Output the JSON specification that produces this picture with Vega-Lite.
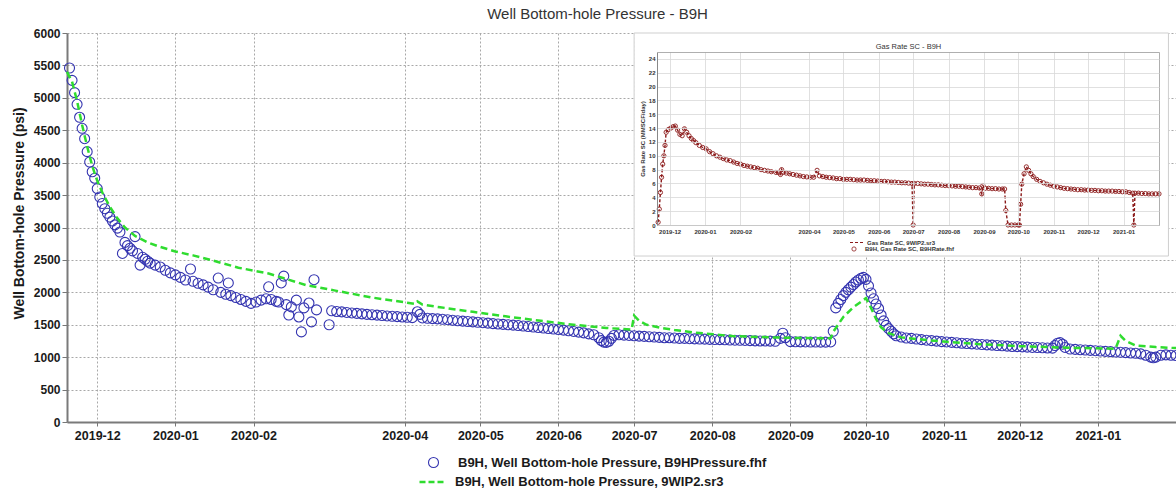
{
 "$schema": "https://vega.github.io/schema/vega-lite/v6.json",
 "width": 1109, "height": 389,
 "autosize": {"type": "none"},
 "padding": {"left": 67, "top": 33, "right": 0, "bottom": 67},
 "background": "white",
 "title": {"text": "Well Bottom-hole Pressure - B9H", "fontSize": 15, "fontWeight": "normal", "font": "Liberation Sans", "color": "#333333", "dx": -24, "offset": 5},
 "config": {"view": {"stroke": null}, "font": "Liberation Sans"},
 "datasets": {
  "obs": [
   {"d":"2019-11-20","p":5460},{"d":"2019-11-21","p":5270},{"d":"2019-11-22","p":5080},{"d":"2019-11-23","p":4900},{"d":"2019-11-24","p":4700},{"d":"2019-11-25","p":4530},{"d":"2019-11-26","p":4370},{"d":"2019-11-27","p":4170},{"d":"2019-11-28","p":4010},{"d":"2019-11-29","p":3860},{"d":"2019-11-30","p":3760},
   {"d":"2019-12-01","p":3600},{"d":"2019-12-02","p":3470},{"d":"2019-12-03","p":3370},{"d":"2019-12-04","p":3290},{"d":"2019-12-05","p":3220},{"d":"2019-12-06","p":3160},{"d":"2019-12-07","p":3100},{"d":"2019-12-08","p":3040},{"d":"2019-12-09","p":2990},{"d":"2019-12-10","p":2930},{"d":"2019-12-11","p":2600},{"d":"2019-12-12","p":2770},{"d":"2019-12-13","p":2720},{"d":"2019-12-14","p":2680},{"d":"2019-12-15","p":2640},{"d":"2019-12-16","p":2860},{"d":"2019-12-17","p":2600},{"d":"2019-12-18","p":2420},{"d":"2019-12-19","p":2540},{"d":"2019-12-20","p":2510},{"d":"2019-12-21","p":2480},{"d":"2019-12-22","p":2450},{"d":"2019-12-24","p":2420},{"d":"2019-12-26","p":2390},{"d":"2019-12-28","p":2340},{"d":"2019-12-30","p":2300},
   {"d":"2020-01-01","p":2270},{"d":"2020-01-03","p":2230},{"d":"2020-01-05","p":2190},{"d":"2020-01-07","p":2360},{"d":"2020-01-08","p":2170},{"d":"2020-01-10","p":2140},{"d":"2020-01-12","p":2115},{"d":"2020-01-14","p":2080},{"d":"2020-01-16","p":2040},{"d":"2020-01-18","p":2220},{"d":"2020-01-19","p":2000},{"d":"2020-01-21","p":1970},{"d":"2020-01-22","p":2145},{"d":"2020-01-23","p":1950},{"d":"2020-01-25","p":1920},{"d":"2020-01-27","p":1890},{"d":"2020-01-29","p":1860},{"d":"2020-01-31","p":1830},
   {"d":"2020-02-02","p":1850},{"d":"2020-02-04","p":1880},{"d":"2020-02-06","p":1900},{"d":"2020-02-07","p":2085},{"d":"2020-02-08","p":1890},{"d":"2020-02-10","p":1860},{"d":"2020-02-11","p":1850},{"d":"2020-02-12","p":2145},{"d":"2020-02-13","p":2250},{"d":"2020-02-14","p":1810},{"d":"2020-02-15","p":1650},{"d":"2020-02-16","p":1775},{"d":"2020-02-18","p":1880},{"d":"2020-02-19","p":1620},{"d":"2020-02-20","p":1390},{"d":"2020-02-21","p":1760},{"d":"2020-02-23","p":1835},{"d":"2020-02-24","p":1545},{"d":"2020-02-25","p":2195},{"d":"2020-02-26","p":1730},{"d":"2020-03-02","p":1500},
   {"d":"2020-03-03","p":1715},{"d":"2020-03-05","p":1705},{"d":"2020-03-07","p":1698},{"d":"2020-03-09","p":1690},{"d":"2020-03-11","p":1682},{"d":"2020-03-13","p":1675},{"d":"2020-03-15","p":1668},{"d":"2020-03-17","p":1660},{"d":"2020-03-19","p":1655},{"d":"2020-03-21","p":1648},{"d":"2020-03-23","p":1642},{"d":"2020-03-25","p":1636},{"d":"2020-03-27","p":1630},{"d":"2020-03-29","p":1625},{"d":"2020-03-31","p":1620},
   {"d":"2020-04-02","p":1615},{"d":"2020-04-04","p":1610},{"d":"2020-04-06","p":1700},{"d":"2020-04-07","p":1660},{"d":"2020-04-08","p":1605},{"d":"2020-04-10","p":1600},{"d":"2020-04-12","p":1595},{"d":"2020-04-14","p":1590},{"d":"2020-04-16","p":1585},{"d":"2020-04-18","p":1578},{"d":"2020-04-20","p":1570},{"d":"2020-04-22","p":1562},{"d":"2020-04-24","p":1556},{"d":"2020-04-26","p":1550},{"d":"2020-04-28","p":1545},{"d":"2020-04-30","p":1538},
   {"d":"2020-05-02","p":1532},{"d":"2020-05-04","p":1525},{"d":"2020-05-06","p":1518},{"d":"2020-05-08","p":1512},{"d":"2020-05-10","p":1506},{"d":"2020-05-12","p":1500},{"d":"2020-05-14","p":1494},{"d":"2020-05-16","p":1488},{"d":"2020-05-18","p":1480},{"d":"2020-05-20","p":1472},{"d":"2020-05-22","p":1465},{"d":"2020-05-24","p":1457},{"d":"2020-05-26","p":1450},{"d":"2020-05-28","p":1442},{"d":"2020-05-30","p":1434},
   {"d":"2020-06-01","p":1426},{"d":"2020-06-03","p":1417},{"d":"2020-06-05","p":1407},{"d":"2020-06-07","p":1397},{"d":"2020-06-09","p":1387},{"d":"2020-06-11","p":1375},{"d":"2020-06-13","p":1360},{"d":"2020-06-15","p":1345},{"d":"2020-06-17","p":1300},{"d":"2020-06-18","p":1255},{"d":"2020-06-19","p":1232},{"d":"2020-06-20","p":1228},{"d":"2020-06-21","p":1245},{"d":"2020-06-22","p":1290},{"d":"2020-06-23","p":1335},{"d":"2020-06-25","p":1345},{"d":"2020-06-27","p":1340},{"d":"2020-06-29","p":1335},
   {"d":"2020-07-01","p":1330},{"d":"2020-07-03","p":1325},{"d":"2020-07-05","p":1320},{"d":"2020-07-07","p":1315},{"d":"2020-07-09","p":1310},{"d":"2020-07-11","p":1305},{"d":"2020-07-13","p":1300},{"d":"2020-07-15","p":1300},{"d":"2020-07-17","p":1295},{"d":"2020-07-19","p":1290},{"d":"2020-07-21","p":1290},{"d":"2020-07-23","p":1285},{"d":"2020-07-25","p":1282},{"d":"2020-07-27","p":1280},{"d":"2020-07-29","p":1278},{"d":"2020-07-31","p":1275},
   {"d":"2020-08-02","p":1272},{"d":"2020-08-04","p":1270},{"d":"2020-08-06","p":1268},{"d":"2020-08-08","p":1265},{"d":"2020-08-10","p":1262},{"d":"2020-08-12","p":1260},{"d":"2020-08-14","p":1258},{"d":"2020-08-16","p":1255},{"d":"2020-08-18","p":1252},{"d":"2020-08-20","p":1250},{"d":"2020-08-22","p":1250},{"d":"2020-08-24","p":1248},{"d":"2020-08-26","p":1245},{"d":"2020-08-28","p":1290},{"d":"2020-08-29","p":1370},{"d":"2020-08-30","p":1300},
   {"d":"2020-09-01","p":1240},{"d":"2020-09-03","p":1238},{"d":"2020-09-05","p":1236},{"d":"2020-09-07","p":1235},{"d":"2020-09-09","p":1234},{"d":"2020-09-11","p":1233},{"d":"2020-09-13","p":1232},{"d":"2020-09-15","p":1232},{"d":"2020-09-17","p":1235},{"d":"2020-09-18","p":1400},{"d":"2020-09-19","p":1760},{"d":"2020-09-20","p":1830},{"d":"2020-09-21","p":1890},{"d":"2020-09-22","p":1950},{"d":"2020-09-23","p":2000},{"d":"2020-09-24","p":2040},{"d":"2020-09-25","p":2080},{"d":"2020-09-26","p":2120},{"d":"2020-09-27","p":2160},{"d":"2020-09-28","p":2190},{"d":"2020-09-29","p":2215},{"d":"2020-09-30","p":2230},
   {"d":"2020-10-01","p":2200},{"d":"2020-10-02","p":2100},{"d":"2020-10-03","p":1990},{"d":"2020-10-04","p":1900},{"d":"2020-10-05","p":1820},{"d":"2020-10-06","p":1750},{"d":"2020-10-07","p":1650},{"d":"2020-10-08","p":1560},{"d":"2020-10-09","p":1490},{"d":"2020-10-10","p":1440},{"d":"2020-10-11","p":1400},{"d":"2020-10-12","p":1360},{"d":"2020-10-13","p":1330},{"d":"2020-10-15","p":1310},{"d":"2020-10-17","p":1295},{"d":"2020-10-19","p":1290},{"d":"2020-10-21","p":1280},{"d":"2020-10-23","p":1270},{"d":"2020-10-25","p":1262},{"d":"2020-10-27","p":1255},{"d":"2020-10-29","p":1248},{"d":"2020-10-31","p":1240},
   {"d":"2020-11-02","p":1235},{"d":"2020-11-04","p":1228},{"d":"2020-11-06","p":1222},{"d":"2020-11-08","p":1215},{"d":"2020-11-10","p":1210},{"d":"2020-11-12","p":1205},{"d":"2020-11-14","p":1200},{"d":"2020-11-16","p":1195},{"d":"2020-11-18","p":1190},{"d":"2020-11-20","p":1185},{"d":"2020-11-22","p":1180},{"d":"2020-11-24","p":1175},{"d":"2020-11-26","p":1170},{"d":"2020-11-28","p":1165},{"d":"2020-11-30","p":1162},
   {"d":"2020-12-02","p":1158},{"d":"2020-12-04","p":1155},{"d":"2020-12-06","p":1150},{"d":"2020-12-08","p":1148},{"d":"2020-12-10","p":1145},{"d":"2020-12-12","p":1142},{"d":"2020-12-14","p":1140},{"d":"2020-12-15","p":1180},{"d":"2020-12-16","p":1215},{"d":"2020-12-17","p":1225},{"d":"2020-12-18","p":1200},{"d":"2020-12-19","p":1150},{"d":"2020-12-21","p":1125},{"d":"2020-12-23","p":1120},{"d":"2020-12-25","p":1115},{"d":"2020-12-27","p":1110},{"d":"2020-12-29","p":1105},{"d":"2020-12-31","p":1100},
   {"d":"2021-01-02","p":1095},{"d":"2021-01-04","p":1090},{"d":"2021-01-06","p":1085},{"d":"2021-01-08","p":1080},{"d":"2021-01-10","p":1075},{"d":"2021-01-12","p":1070},{"d":"2021-01-14","p":1065},{"d":"2021-01-16","p":1060},{"d":"2021-01-18","p":1050},{"d":"2021-01-20","p":1030},{"d":"2021-01-22","p":1000},{"d":"2021-01-23","p":990},{"d":"2021-01-24","p":1000},{"d":"2021-01-26","p":1030},{"d":"2021-01-28","p":1035},{"d":"2021-01-30","p":1030},{"d":"2021-02-01","p":1025}
  ],
  "sim": [
   {"d":"2019-11-19","p":5400},{"d":"2019-11-21","p":5250},{"d":"2019-11-23","p":4950},{"d":"2019-11-25","p":4580},{"d":"2019-11-27","p":4250},{"d":"2019-11-29","p":3950},{"d":"2019-12-01","p":3720},{"d":"2019-12-03","p":3540},{"d":"2019-12-06","p":3320},{"d":"2019-12-09","p":3140},{"d":"2019-12-12","p":3000},{"d":"2019-12-16","p":2870},{"d":"2019-12-21","p":2770},{"d":"2019-12-26","p":2700},
   {"d":"2020-01-01","p":2630},{"d":"2020-01-08","p":2570},{"d":"2020-01-15","p":2500},{"d":"2020-01-26","p":2380},{"d":"2020-02-07","p":2290},{"d":"2020-02-22","p":2110},{"d":"2020-03-04","p":2030},{"d":"2020-03-19","p":1920},{"d":"2020-04-02","p":1840},{"d":"2020-04-05","p":1820},{"d":"2020-04-06","p":1860},{"d":"2020-04-08","p":1810},{"d":"2020-04-15","p":1770},{"d":"2020-04-28","p":1700},{"d":"2020-05-11","p":1630},{"d":"2020-05-25","p":1560},{"d":"2020-06-07","p":1500},{"d":"2020-06-20","p":1450},{"d":"2020-06-30","p":1425},
   {"d":"2020-07-01","p":1640},{"d":"2020-07-03","p":1560},{"d":"2020-07-06","p":1500},{"d":"2020-07-12","p":1450},{"d":"2020-07-17","p":1420},{"d":"2020-07-25","p":1380},{"d":"2020-08-09","p":1325},{"d":"2020-08-25","p":1305},{"d":"2020-09-04","p":1295},{"d":"2020-09-17","p":1290},{"d":"2020-09-18","p":1390},{"d":"2020-09-22","p":1620},{"d":"2020-09-26","p":1770},{"d":"2020-10-01","p":1910},{"d":"2020-10-03","p":1760},{"d":"2020-10-05","p":1590},{"d":"2020-10-07","p":1460},{"d":"2020-10-10","p":1370},{"d":"2020-10-15","p":1305},{"d":"2020-10-25","p":1265},{"d":"2020-11-01","p":1240},{"d":"2020-11-15","p":1200},{"d":"2020-12-01","p":1170},{"d":"2020-12-20","p":1145},
   {"d":"2021-01-08","p":1130},{"d":"2021-01-10","p":1330},{"d":"2021-01-12","p":1250},{"d":"2021-01-16","p":1180},{"d":"2021-01-24","p":1155},{"d":"2021-02-01","p":1140}
  ],
  "gas": [
   {"d":"2019-11-21","q":0.4},{"d":"2019-11-22","q":2.3},{"d":"2019-11-23","q":4.7},{"d":"2019-11-24","q":6.9},{"d":"2019-11-25","q":8.8},{"d":"2019-11-26","q":10.0},{"d":"2019-11-27","q":11.5},{"d":"2019-11-28","q":13.4},{"d":"2019-11-30","q":13.8},{"d":"2019-12-02","q":14.0},{"d":"2019-12-04","q":14.2},{"d":"2019-12-06","q":14.3},{"d":"2019-12-08","q":13.7},{"d":"2019-12-10","q":13.1},{"d":"2019-12-12","q":12.9},{"d":"2019-12-14","q":13.9},{"d":"2019-12-16","q":13.4},{"d":"2019-12-18","q":12.9},{"d":"2019-12-20","q":12.5},{"d":"2019-12-22","q":12.2},{"d":"2019-12-24","q":11.9},{"d":"2019-12-27","q":11.5},{"d":"2019-12-30","q":11.2},
   {"d":"2020-01-02","q":11.0},{"d":"2020-01-05","q":10.6},{"d":"2020-01-08","q":10.3},{"d":"2020-01-11","q":10.0},{"d":"2020-01-14","q":9.8},{"d":"2020-01-17","q":9.6},{"d":"2020-01-20","q":9.4},{"d":"2020-01-23","q":9.3},{"d":"2020-01-26","q":9.1},{"d":"2020-01-29","q":8.9},{"d":"2020-02-01","q":8.8},{"d":"2020-02-04","q":8.6},{"d":"2020-02-07","q":8.5},{"d":"2020-02-10","q":8.4},{"d":"2020-02-13","q":8.3},{"d":"2020-02-16","q":8.2},{"d":"2020-02-19","q":8.0},{"d":"2020-02-22","q":7.9},{"d":"2020-02-25","q":7.8},{"d":"2020-02-28","q":7.7},
   {"d":"2020-03-03","q":7.6},{"d":"2020-03-05","q":7.6},{"d":"2020-03-07","q":7.3},{"d":"2020-03-08","q":8.0},{"d":"2020-03-09","q":7.6},{"d":"2020-03-12","q":7.5},{"d":"2020-03-15","q":7.4},{"d":"2020-03-18","q":7.3},{"d":"2020-03-21","q":7.2},{"d":"2020-03-24","q":7.1},{"d":"2020-03-27","q":7.0},{"d":"2020-03-30","q":6.95},{"d":"2020-04-02","q":6.9},{"d":"2020-04-05","q":6.9},{"d":"2020-04-08","q":7.9},{"d":"2020-04-10","q":7.1},{"d":"2020-04-13","q":7.0},{"d":"2020-04-16","q":6.9},{"d":"2020-04-19","q":6.85},{"d":"2020-04-22","q":6.8},{"d":"2020-04-25","q":6.7},{"d":"2020-04-28","q":6.7},
   {"d":"2020-05-01","q":6.6},{"d":"2020-05-04","q":6.6},{"d":"2020-05-07","q":6.6},{"d":"2020-05-10","q":6.55},{"d":"2020-05-13","q":6.5},{"d":"2020-05-16","q":6.5},{"d":"2020-05-19","q":6.5},{"d":"2020-05-22","q":6.45},{"d":"2020-05-25","q":6.4},{"d":"2020-05-28","q":6.4},{"d":"2020-05-31","q":6.35},{"d":"2020-06-03","q":6.3},{"d":"2020-06-06","q":6.3},{"d":"2020-06-09","q":6.25},{"d":"2020-06-12","q":6.2},{"d":"2020-06-15","q":6.2},{"d":"2020-06-18","q":6.15},{"d":"2020-06-21","q":6.1},{"d":"2020-06-24","q":6.1},{"d":"2020-06-27","q":6.05},{"d":"2020-06-30","q":6.0},
   {"d":"2020-07-01","q":0},{"d":"2020-07-02","q":6.0},{"d":"2020-07-05","q":6.0},{"d":"2020-07-08","q":5.95},{"d":"2020-07-11","q":5.9},{"d":"2020-07-14","q":5.9},{"d":"2020-07-17","q":5.85},{"d":"2020-07-20","q":5.8},{"d":"2020-07-23","q":5.8},{"d":"2020-07-26","q":5.75},{"d":"2020-07-29","q":5.7},{"d":"2020-08-01","q":5.7},{"d":"2020-08-04","q":5.65},{"d":"2020-08-07","q":5.6},{"d":"2020-08-10","q":5.6},{"d":"2020-08-13","q":5.55},{"d":"2020-08-16","q":5.5},{"d":"2020-08-19","q":5.45},{"d":"2020-08-22","q":5.4},{"d":"2020-08-25","q":5.4},{"d":"2020-08-28","q":5.35},{"d":"2020-08-30","q":4.5},{"d":"2020-08-31","q":5.7},
   {"d":"2020-09-02","q":5.3},{"d":"2020-09-05","q":5.3},{"d":"2020-09-08","q":5.25},{"d":"2020-09-11","q":5.25},{"d":"2020-09-14","q":5.2},{"d":"2020-09-17","q":5.2},{"d":"2020-09-19","q":5.2},{"d":"2020-09-20","q":2.1},{"d":"2020-09-22","q":0},{"d":"2020-09-25","q":0},{"d":"2020-09-28","q":0},{"d":"2020-10-01","q":0},{"d":"2020-10-02","q":0},{"d":"2020-10-03","q":3.0},{"d":"2020-10-04","q":5.9},{"d":"2020-10-06","q":7.4},{"d":"2020-10-08","q":8.4},{"d":"2020-10-10","q":7.9},{"d":"2020-10-12","q":7.4},{"d":"2020-10-14","q":7.0},{"d":"2020-10-17","q":6.6},{"d":"2020-10-20","q":6.3},{"d":"2020-10-23","q":6.1},{"d":"2020-10-26","q":5.9},{"d":"2020-10-29","q":5.75},
   {"d":"2020-11-01","q":5.6},{"d":"2020-11-04","q":5.5},{"d":"2020-11-07","q":5.4},{"d":"2020-11-10","q":5.3},{"d":"2020-11-13","q":5.25},{"d":"2020-11-16","q":5.2},{"d":"2020-11-19","q":5.15},{"d":"2020-11-22","q":5.1},{"d":"2020-11-25","q":5.1},{"d":"2020-11-28","q":5.05},{"d":"2020-12-01","q":5.05},{"d":"2020-12-04","q":5.0},{"d":"2020-12-07","q":5.0},{"d":"2020-12-10","q":4.95},{"d":"2020-12-13","q":4.95},{"d":"2020-12-16","q":4.9},{"d":"2020-12-19","q":4.9},{"d":"2020-12-22","q":4.9},{"d":"2020-12-25","q":4.85},{"d":"2020-12-28","q":4.85},{"d":"2020-12-31","q":4.8},
   {"d":"2021-01-03","q":4.8},{"d":"2021-01-06","q":4.7},{"d":"2021-01-09","q":4.6},{"d":"2021-01-10","q":0},{"d":"2021-01-11","q":4.6},{"d":"2021-01-14","q":4.6},{"d":"2021-01-17","q":4.55},{"d":"2021-01-20","q":4.55},{"d":"2021-01-23","q":4.5},{"d":"2021-01-26","q":4.5},{"d":"2021-01-29","q":4.5},{"d":"2021-02-01","q":4.5}
  ]
 },
 "layer": [
  {
   "layer": [
    {"data": {"name": "obs"},
     "mark": {"type": "point", "shape": "circle", "filled": false, "size": 100, "strokeWidth": 1.1, "opacity": 1},
     "encoding": {
      "x": {"field": "d", "type": "temporal",
       "scale": {"type": "utc", "domain": [{"year":2019,"month":11,"date":19,"utc":true},{"year":2021,"month":2,"date":1,"utc":true}], "nice": false},
       "axis": {"title": null, "labelExpr": "utcFormat(datum.value, '%Y-%m')",
        "values": [{"year":2019,"month":12,"date":1,"utc":true},{"year":2020,"month":1,"date":1,"utc":true},{"year":2020,"month":2,"date":1,"utc":true},{"year":2020,"month":4,"date":1,"utc":true},{"year":2020,"month":5,"date":1,"utc":true},{"year":2020,"month":6,"date":1,"utc":true},{"year":2020,"month":7,"date":1,"utc":true},{"year":2020,"month":8,"date":1,"utc":true},{"year":2020,"month":9,"date":1,"utc":true},{"year":2020,"month":10,"date":1,"utc":true},{"year":2020,"month":11,"date":1,"utc":true},{"year":2020,"month":12,"date":1,"utc":true},{"year":2021,"month":1,"date":1,"utc":true}],
        "labelFont": "Liberation Sans", "labelFontSize": 12.5, "labelFontWeight": "bold", "labelColor": "#1a1a1a", "labelPadding": 3, "labelFlush": false, "labelOverlap": false,
        "tickSize": 4, "tickColor": "#777777", "domainColor": "#7a7a7a", "domainWidth": 2,
        "grid": true, "gridColor": "#a8a8a8", "gridDash": [2, 2], "gridWidth": 1}},
      "y": {"field": "p", "type": "quantitative",
       "scale": {"domain": [0, 6000], "nice": false, "zero": true},
       "axis": {"title": "Well Bottom-hole Pressure (psi)", "format": "d", "values": [0,500,1000,1500,2000,2500,3000,3500,4000,4500,5000,5500,6000],
        "titleFont": "Liberation Sans", "titleFontSize": 14, "titleFontWeight": "bold", "titleColor": "#1a1a1a", "titlePadding": 7, "titleY": 180,
        "labelFont": "Liberation Sans", "labelFontSize": 12, "labelFontWeight": "bold", "labelColor": "#1a1a1a", "labelPadding": 2,
        "tickSize": 5, "tickColor": "#777777", "domainColor": "#7a7a7a", "domainWidth": 2,
        "grid": true, "gridColor": "#a8a8a8", "gridDash": [2, 2], "gridWidth": 1}},
      "stroke": {"datum": "B9H, Well Bottom-hole Pressure, B9HPressure.fhf", "scale": {"range": ["#3434b0"]},
       "legend": {"orient": "none", "legendX": 360, "legendY": 423, "title": null, "padding": 0, "symbolType": "circle", "symbolSize": 100, "symbolStrokeWidth": 1.1, "symbolFillColor": "transparent",
        "labelFont": "Liberation Sans", "labelFontSize": 13, "labelFontWeight": "bold", "labelColor": "#1a1a1a", "labelOffset": 18, "labelLimit": 500}}}},
    {"data": {"name": "sim"},
     "mark": {"type": "line", "strokeDash": [7, 4], "strokeWidth": 2.5},
     "encoding": {
      "x": {"field": "d", "type": "temporal",
       "scale": {"type": "utc", "domain": [{"year":2019,"month":11,"date":19,"utc":true},{"year":2021,"month":2,"date":1,"utc":true}], "nice": false},
       "axis": {"title": null, "labelExpr": "utcFormat(datum.value, '%Y-%m')",
        "values": [{"year":2019,"month":12,"date":1,"utc":true},{"year":2020,"month":1,"date":1,"utc":true},{"year":2020,"month":2,"date":1,"utc":true},{"year":2020,"month":4,"date":1,"utc":true},{"year":2020,"month":5,"date":1,"utc":true},{"year":2020,"month":6,"date":1,"utc":true},{"year":2020,"month":7,"date":1,"utc":true},{"year":2020,"month":8,"date":1,"utc":true},{"year":2020,"month":9,"date":1,"utc":true},{"year":2020,"month":10,"date":1,"utc":true},{"year":2020,"month":11,"date":1,"utc":true},{"year":2020,"month":12,"date":1,"utc":true},{"year":2021,"month":1,"date":1,"utc":true}],
        "labelFont": "Liberation Sans", "labelFontSize": 12.5, "labelFontWeight": "bold", "labelColor": "#1a1a1a", "labelPadding": 3, "labelFlush": false, "labelOverlap": false,
        "tickSize": 4, "tickColor": "#777777", "domainColor": "#7a7a7a", "domainWidth": 2,
        "grid": true, "gridColor": "#a8a8a8", "gridDash": [2, 2], "gridWidth": 1}},
      "y": {"field": "p", "type": "quantitative",
       "scale": {"domain": [0, 6000], "nice": false, "zero": true},
       "axis": {"title": "Well Bottom-hole Pressure (psi)", "format": "d", "values": [0,500,1000,1500,2000,2500,3000,3500,4000,4500,5000,5500,6000],
        "titleFont": "Liberation Sans", "titleFontSize": 14, "titleFontWeight": "bold", "titleColor": "#1a1a1a", "titlePadding": 7, "titleY": 180,
        "labelFont": "Liberation Sans", "labelFontSize": 12, "labelFontWeight": "bold", "labelColor": "#1a1a1a", "labelPadding": 2,
        "tickSize": 5, "tickColor": "#777777", "domainColor": "#7a7a7a", "domainWidth": 2,
        "grid": true, "gridColor": "#a8a8a8", "gridDash": [2, 2], "gridWidth": 1}},
      "color": {"datum": "B9H, Well Bottom-hole Pressure, 9WIP2.sr3", "scale": {"range": ["#2fdc2f"]},
       "legend": {"orient": "none", "legendX": 351, "legendY": 435, "title": null, "padding": 0, "symbolType": "stroke", "symbolSize": 625, "symbolStrokeWidth": 2.5, "symbolDash": [6, 3],
        "labelFont": "Liberation Sans", "labelFontSize": 13, "labelFontWeight": "bold", "labelColor": "#1a1a1a", "labelOffset": 9, "labelLimit": 500}}}},
    {"data": {"values": [{}]},
     "mark": {"type": "rect", "fill": "white", "stroke": "#cfcfcf", "strokeWidth": 1},
     "encoding": {
      "x": {"datum": {"year":2020,"month":7,"date":1,"utc":true}, "type": "temporal",
       "scale": {"type": "utc", "domain": [{"year":2019,"month":11,"date":19,"utc":true},{"year":2021,"month":2,"date":1,"utc":true}], "nice": false},
       "axis": {"title": null, "labelExpr": "utcFormat(datum.value, '%Y-%m')",
        "values": [{"year":2019,"month":12,"date":1,"utc":true},{"year":2020,"month":1,"date":1,"utc":true},{"year":2020,"month":2,"date":1,"utc":true},{"year":2020,"month":4,"date":1,"utc":true},{"year":2020,"month":5,"date":1,"utc":true},{"year":2020,"month":6,"date":1,"utc":true},{"year":2020,"month":7,"date":1,"utc":true},{"year":2020,"month":8,"date":1,"utc":true},{"year":2020,"month":9,"date":1,"utc":true},{"year":2020,"month":10,"date":1,"utc":true},{"year":2020,"month":11,"date":1,"utc":true},{"year":2020,"month":12,"date":1,"utc":true},{"year":2021,"month":1,"date":1,"utc":true}],
        "labelFont": "Liberation Sans", "labelFontSize": 12.5, "labelFontWeight": "bold", "labelColor": "#1a1a1a", "labelPadding": 3, "labelFlush": false, "labelOverlap": false,
        "tickSize": 4, "tickColor": "#777777", "domainColor": "#7a7a7a", "domainWidth": 2,
        "grid": true, "gridColor": "#a8a8a8", "gridDash": [2, 2], "gridWidth": 1}},
      "x2": {"datum": {"year":2021,"month":1,"date":29,"utc":true}},
      "y": {"datum": 6000, "type": "quantitative",
       "scale": {"domain": [0, 6000], "nice": false, "zero": true},
       "axis": {"title": "Well Bottom-hole Pressure (psi)", "format": "d", "values": [0,500,1000,1500,2000,2500,3000,3500,4000,4500,5000,5500,6000],
        "titleFont": "Liberation Sans", "titleFontSize": 14, "titleFontWeight": "bold", "titleColor": "#1a1a1a", "titlePadding": 7, "titleY": 180,
        "labelFont": "Liberation Sans", "labelFontSize": 12, "labelFontWeight": "bold", "labelColor": "#1a1a1a", "labelPadding": 2,
        "tickSize": 5, "tickColor": "#777777", "domainColor": "#7a7a7a", "domainWidth": 2,
        "grid": true, "gridColor": "#a8a8a8", "gridDash": [2, 2], "gridWidth": 1}},
      "y2": {"datum": 2560}}}
   ]
  },
  {
   "encoding": {
    "x": {"field": "d", "type": "temporal",
     "scale": {"type": "utc", "domain": [{"year":2019,"month":11,"date":20,"utc":true},{"year":2021,"month":2,"date":1,"utc":true}], "range": [590, 1092], "nice": false},
     "axis": {"orient": "bottom", "offset": -197, "zindex": 1,
      "title": "Gas Rate SC - B9H", "titleX": 841, "titleY": -179, "titleBaseline": "middle", "titleAlign": "center", "titleFont": "Liberation Sans", "titleFontSize": 7.5, "titleFontWeight": "normal", "titleColor": "#333333",
      "labelExpr": "datum.value > 1610000000000 ? '' : utcFormat(datum.value, '%Y-%m')",
      "values": [{"year":2019,"month":12,"date":1,"utc":true},{"year":2020,"month":1,"date":1,"utc":true},{"year":2020,"month":2,"date":1,"utc":true},{"year":2020,"month":4,"date":1,"utc":true},{"year":2020,"month":5,"date":1,"utc":true},{"year":2020,"month":6,"date":1,"utc":true},{"year":2020,"month":7,"date":1,"utc":true},{"year":2020,"month":8,"date":1,"utc":true},{"year":2020,"month":9,"date":1,"utc":true},{"year":2020,"month":10,"date":1,"utc":true},{"year":2020,"month":11,"date":1,"utc":true},{"year":2020,"month":12,"date":1,"utc":true},{"year":2021,"month":1,"date":1,"utc":true},{"year":2021,"month":2,"date":1,"utc":true}],
      "labelFont": "Liberation Sans", "labelFontSize": 6, "labelFontWeight": "bold", "labelColor": "#333333", "labelPadding": 176, "labelFlush": false, "labelOverlap": false,
      "tickSize": -173, "tickWidth": 0.8, "tickColor": {"condition": {"test": "datum.value > 1610000000000", "value": "#9a9a9a"}, "value": "#d8d8d8"},
      "domainColor": "#888888", "domainWidth": 1, "grid": false}},
    "y": {"field": "q", "type": "quantitative",
     "scale": {"domain": [0, 25], "range": [192, 19], "nice": false, "zero": true},
     "axis": {"orient": "left", "offset": -590, "zindex": 1,
      "title": "Gas Rate SC (MMSCF/day)", "titleFont": "Liberation Sans", "titleFontSize": 6, "titleFontWeight": "bold", "titleColor": "#333333", "titlePadding": 3,
      "labelExpr": "datum.value > 24 ? '' : format(datum.value, 'd')",
      "values": [0,2,4,6,8,10,12,14,16,18,20,22,24,25],
      "labelFont": "Liberation Sans", "labelFontSize": 6, "labelFontWeight": "bold", "labelColor": "#333333", "labelPadding": 504,
      "tickSize": -502, "tickWidth": 0.8, "tickColor": {"condition": {"test": "datum.value > 24", "value": "#9a9a9a"}, "value": "#d8d8d8"},
      "domainColor": "#888888", "domainWidth": 1, "grid": false}}
   },
   "layer": [
    {"data": {"name": "gas"},
     "mark": {"type": "line", "color": "#8b1a1a", "strokeWidth": 1.4},
     "encoding": {"strokeDash": {"datum": "Gas Rate SC, 9WIP2.sr3", "scale": {"range": [[3, 2]]},
      "legend": {"orient": "none", "legendX": 782, "legendY": 202, "title": null, "padding": 0, "symbolType": "stroke", "symbolSize": 169, "symbolStrokeWidth": 1.2, "symbolStrokeColor": "#8b1a1a",
       "labelFont": "Liberation Sans", "labelFontSize": 6, "labelFontWeight": "bold", "labelColor": "#333333", "labelOffset": 3}}}},
    {"data": {"name": "gas"},
     "mark": {"type": "point", "filled": false, "size": 18, "strokeWidth": 0.9, "color": "#8b1a1a", "opacity": 1},
     "encoding": {"shape": {"datum": "B9H, Gas Rate SC, B9HRate.fhf", "scale": {"range": ["circle"]},
      "legend": {"orient": "none", "legendX": 784, "legendY": 213, "title": null, "padding": 0, "symbolSize": 18, "symbolStrokeWidth": 0.8, "symbolStrokeColor": "#8b1a1a", "symbolFillColor": "transparent",
       "labelFont": "Liberation Sans", "labelFontSize": 6, "labelFontWeight": "bold", "labelColor": "#333333", "labelOffset": 8}}}}
   ]
  }
 ],
 "resolve": {"scale": {"x": "independent", "y": "independent"}, "axis": {"x": "independent", "y": "independent"}}
}
